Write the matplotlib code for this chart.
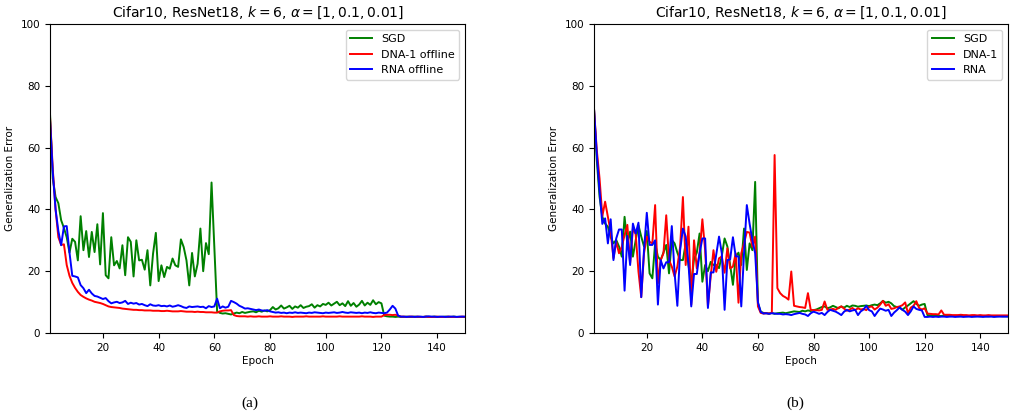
# Curvas de error de generalizacion (Cifar10, ResNet18)
import numpy as np
import matplotlib
matplotlib.use('Agg')
import matplotlib.pyplot as plt

epocas = np.arange(1, 151)

# (a) variantes offline
sgd_a = [71, 50, 44, 42, 36.5, 34, 31, 26, 30.5, 29.5,
         23.5, 37.8, 26.8, 33, 24.6, 32.7, 26.2, 35.2, 22.2, 38.8,
         18.7, 17.7, 31, 21.9, 23.3, 20.9, 28.4, 18.7, 31, 29.5,
         18.3, 30, 23.5, 23.7, 20.5, 26.8, 15.4, 25.7, 32.4, 16.8,
         21.9, 18.1, 21.4, 20.8, 24.1, 21.9, 21.4, 30.3, 27.8, 23.5,
         15.4, 25.9, 18.3, 22.4, 33.8, 20, 29.1, 25.5, 48.7, 28,
         7, 6.5, 6.3, 6.4, 6.2, 6.0, 6.3, 6.6, 6.4, 6.8,
         6.5, 6.7, 6.9, 7.0, 6.7, 7.2, 6.9, 7.3, 7.0, 7.4,
         8.4, 7.6, 8.0, 8.9, 7.9, 8.3, 8.8, 7.8, 8.6, 8.2,
         9.0, 8.1, 8.5, 8.7, 9.3, 8.2, 9.0, 8.6, 9.4, 9.1,
         9.8, 8.9, 9.5, 10.1, 9.0, 9.6, 8.7, 10.3, 8.8, 9.7,
         8.5, 9.2, 10.4, 8.9, 9.8, 9.1, 10.6, 9.3, 10.0, 9.6,
         5.6, 5.4, 5.3, 5.3, 5.2, 5.3, 5.2, 5.2, 5.3, 5.2,
         5.2, 5.3, 5.2, 5.2, 5.2, 5.3, 5.2, 5.2, 5.3, 5.2,
         5.2, 5.2, 5.3, 5.2, 5.2, 5.3, 5.2, 5.2, 5.2, 5.2]
dna_a = [70, 53, 40, 31, 28.5, 28.7, 22, 18.5, 16.2, 14.6,
         13.3, 12.3, 11.7, 11.2, 10.8, 10.5, 10.1, 9.9, 9.7, 9.4,
         9.0, 8.6, 8.4, 8.3, 8.2, 8.1, 7.9, 7.8, 7.7, 7.6,
         7.5, 7.5, 7.4, 7.4, 7.3, 7.3, 7.3, 7.2, 7.2, 7.2,
         7.1, 7.1, 7.2, 7.1, 7.0, 7.0, 7.0, 7.1, 7.0, 6.9,
         6.9, 6.9, 6.8, 6.9, 6.8, 6.8, 6.7, 6.7, 6.7, 6.6,
         6.6, 7.0, 7.2, 7.3, 7.3, 7.4, 5.8, 5.5, 5.4, 5.4,
         5.4, 5.3, 5.4, 5.3, 5.3, 5.4, 5.3, 5.3, 5.3, 5.4,
         5.3, 5.3, 5.3, 5.4, 5.3, 5.3, 5.3, 5.2, 5.3, 5.3,
         5.3, 5.3, 5.4, 5.3, 5.3, 5.3, 5.3, 5.3, 5.4, 5.3,
         5.3, 5.3, 5.3, 5.3, 5.4, 5.3, 5.3, 5.3, 5.3, 5.3,
         5.3, 5.3, 5.4, 5.3, 5.3, 5.3, 5.2, 5.3, 5.3, 5.3,
         5.8, 5.9, 5.9, 5.8, 5.9, 5.6, 5.3, 5.3, 5.2, 5.3,
         5.3, 5.2, 5.3, 5.2, 5.2, 5.3, 5.2, 5.2, 5.2, 5.3,
         5.2, 5.2, 5.2, 5.3, 5.2, 5.2, 5.2, 5.2, 5.3, 5.2]
rna_a = [69, 52, 40, 33, 28.4, 34.5, 34.6, 26, 18.5, 18.3,
         18.0, 15.5, 14.5, 12.9, 14.0, 12.8, 12.0, 11.8, 11.4, 11.0,
         11.3, 10.3, 9.6, 9.9, 10.1, 9.7, 9.9, 10.4, 9.4, 9.8,
         9.5, 9.7, 9.2, 9.4, 9.0, 8.7, 9.3, 8.9, 8.8, 9.0,
         8.7, 8.8, 8.6, 8.9, 8.5, 8.7, 9.0, 8.7, 8.3, 8.1,
         8.6, 8.4, 8.5, 8.6, 8.4, 8.5, 8.0, 8.7, 8.4, 8.6,
         11.1, 8.0, 8.6, 8.2, 8.5, 10.4, 10.0, 9.5, 8.8, 8.4,
         7.9, 8.0, 7.8, 7.6, 7.4, 7.6, 7.3, 7.2, 7.4, 7.0,
         6.8, 6.6, 6.7, 6.5, 6.6, 6.4, 6.6, 6.5, 6.7, 6.5,
         6.6, 6.5, 6.4, 6.6, 6.5, 6.7, 6.6, 6.5, 6.4, 6.6,
         6.5, 6.6, 6.7, 6.5, 6.6, 6.8, 6.6, 6.5, 6.7, 6.6,
         6.5, 6.6, 6.4, 6.6, 6.5, 6.7, 6.5, 6.4, 6.6, 6.5,
         6.4, 6.6, 7.6, 8.8, 7.9, 5.6, 5.3, 5.3, 5.2, 5.3,
         5.3, 5.2, 5.3, 5.3, 5.2, 5.3, 5.4, 5.3, 5.3, 5.2,
         5.3, 5.3, 5.2, 5.3, 5.3, 5.3, 5.2, 5.3, 5.3, 5.3]

# (b) variantes online
sgd_b = [72.6, 56, 44.1, 37.6, 35.4, 34.4, 31, 29, 30.1, 28,
         24.7, 37.6, 29, 32.8, 24.7, 30, 34.9, 31.2, 28, 33,
         19.3, 17.7, 29, 24.7, 23.6, 26, 28.5, 19.3, 30.1, 29,
         26, 23.6, 23.6, 29, 22, 16.1, 24, 26, 32.2, 16.6,
         22, 20, 23, 22, 22, 21, 25, 30.6, 28, 22,
         15.6, 24.7, 26, 22, 33.8, 20.4, 29, 26.8, 48.9, 9.6,
         6.9, 6.5, 6.4, 6.3, 6.5, 6.2, 6.4, 6.5, 6.6, 6.4,
         6.6, 6.8, 7.0, 6.9, 6.8, 7.2, 7.0, 7.3, 7.1, 7.4,
         7.6, 8.0, 8.4, 8.6, 8.0, 8.3, 8.8, 8.4, 8.0, 8.6,
         8.2, 8.8, 8.4, 8.9, 8.8, 8.5, 8.7, 8.8, 8.9, 8.7,
         9.0, 9.2, 9.0, 9.6, 10.4, 9.8, 10.1, 9.6, 8.7, 8.4,
         8.2, 7.5, 8.3, 8.9, 9.6, 10.3, 9.4, 8.8, 9.2, 9.4,
         5.8, 5.7, 5.6, 5.6, 5.5, 5.5, 5.6, 5.5, 5.5, 5.5,
         5.5, 5.4, 5.5, 5.5, 5.4, 5.5, 5.5, 5.4, 5.5, 5.4,
         5.5, 5.4, 5.4, 5.5, 5.4, 5.4, 5.5, 5.4, 5.4, 5.4]
dna_b = [72.6, 59.2, 50, 37.8, 42.5, 37.6, 32.7, 24.2, 29.5, 25.8,
         27.9, 31.7, 35, 22.6, 33.8, 32, 19.9, 11.6, 25.8, 31.2,
         29.5, 29, 41.4, 16.1, 23.6, 25.8, 38.1, 23.6, 21.5, 18.3,
         21.5, 27.9, 44, 22, 34.4, 9.2, 30, 20.9, 25.8, 36.8,
         26.8, 8.6, 18.3, 26.8, 19.8, 24.2, 24.7, 19.5, 27.4, 20.9,
         21.5, 25.8, 9.8, 25.8, 29, 32.7, 32.5, 27.9, 31.2, 8.6,
         6.5, 6.3, 6.4, 6.3, 6.5, 57.6, 14.5, 12.9, 12.0, 11.5,
         10.8, 19.9, 8.8, 8.6, 8.4, 8.3, 8.1, 12.9, 7.5, 7.4,
         7.4, 7.3, 7.5, 10.2, 7.5, 7.6, 7.8, 7.5, 8.2, 8.6,
         7.9, 7.2, 7.6, 8.1, 7.4, 8.0, 7.6, 7.8, 7.4, 8.4,
         8.6, 7.6, 8.2, 9.2, 10.4, 8.8, 9.3, 7.8, 8.0, 8.4,
         8.6, 9.0, 9.9, 6.4, 8.2, 8.8, 10.3, 8.1, 7.6, 8.0,
         6.3, 6.2, 6.1, 6.1, 6.0, 7.3, 5.9, 5.9, 5.9, 5.8,
         5.8, 5.8, 5.9, 5.8, 5.8, 5.7, 5.8, 5.8, 5.7, 5.8,
         5.7, 5.7, 5.8, 5.7, 5.7, 5.7, 5.7, 5.7, 5.7, 5.7]
rna_b = [72.6, 58, 46, 35.3, 37.1, 29, 36.8, 23.6, 30.6, 33.5,
         33.5, 13.7, 31.4, 22, 35.4, 32.2, 35.7, 11.6, 26.8, 38.9,
         28.5, 28.5, 30, 9.2, 23.6, 20.9, 22.9, 22.9, 34.6, 19.5,
         8.8, 26.8, 33.8, 31.2, 22.5, 8.6, 19.1, 19.1, 25.8, 30.6,
         30.6, 8.1, 19.6, 19.6, 25.3, 31.2, 25.8, 7.5, 23.6, 23.8,
         31, 24.8, 24.8, 8.6, 25.8, 41.4, 35.4, 30, 25.8, 10,
         6.8, 6.3, 6.4, 6.2, 6.4, 6.3, 6.2, 6.2, 6.0, 6.1,
         6.0, 5.8, 6.1, 6.3, 6.5, 6.2, 6.0, 5.5, 6.4, 6.9,
         6.6, 6.2, 6.5, 5.8, 6.8, 7.5, 7.2, 6.9, 6.4, 5.8,
         6.9, 7.5, 7.0, 7.3, 7.5, 5.8, 7.0, 7.6, 8.8, 7.4,
         7.0, 5.5, 6.8, 7.9, 7.6, 7.2, 7.5, 5.5, 6.6, 7.4,
         8.3, 7.5, 6.9, 5.8, 7.0, 8.6, 7.8, 7.5, 7.3, 5.2,
         5.2, 5.3, 5.2, 5.3, 5.2, 5.3, 5.3, 5.2, 5.3, 5.3,
         5.2, 5.3, 5.3, 5.2, 5.3, 5.3, 5.2, 5.3, 5.3, 5.3,
         5.2, 5.3, 5.3, 5.3, 5.2, 5.3, 5.3, 5.3, 5.3, 5.3]

titulo = r'Cifar10, ResNet18, $k=6$, $\alpha=[1, 0.1, 0.01]$'
etiquetas_a = ['SGD', 'DNA-1 offline', 'RNA offline']
etiquetas_b = ['SGD', 'DNA-1', 'RNA']
colores = ['green', 'red', 'blue']

fig = plt.figure(figsize=(10.14, 4.17), dpi=100)
ax1 = fig.add_axes([50/1014, 84/417, 415/1014, 309/417])
ax2 = fig.add_axes([594/1014, 84/417, 414/1014, 309/417])

for ax, series, etiquetas in [(ax1, [sgd_a, dna_a, rna_a], etiquetas_a),
                              (ax2, [sgd_b, dna_b, rna_b], etiquetas_b)]:
    for y, c, lab in zip(series, colores, etiquetas):
        ax.plot(epocas, y, color=c, lw=1.4, label=lab)
    ax.set_xlim(1, 150)
    ax.set_ylim(0, 100)
    ax.set_xticks([20, 40, 60, 80, 100, 120, 140])
    ax.set_yticks([0, 20, 40, 60, 80, 100])
    ax.tick_params(labelsize=7.5, length=3.5)
    ax.set_xlabel('Epoch', size=7.5, labelpad=2)
    ax.set_ylabel('Generalization Error', size=7.5, labelpad=4)
    ax.set_title(titulo, size=10, pad=5)
    ax.legend(loc='upper right', fontsize=8, handlelength=2.0)

fig.text(250/1014, 1-403/417, '(a)', ha='center', va='center', family='Liberation Serif', size=11)
fig.text(795/1014, 1-403/417, '(b)', ha='center', va='center', family='Liberation Serif', size=11)

fig.savefig('out.png', dpi=100)
